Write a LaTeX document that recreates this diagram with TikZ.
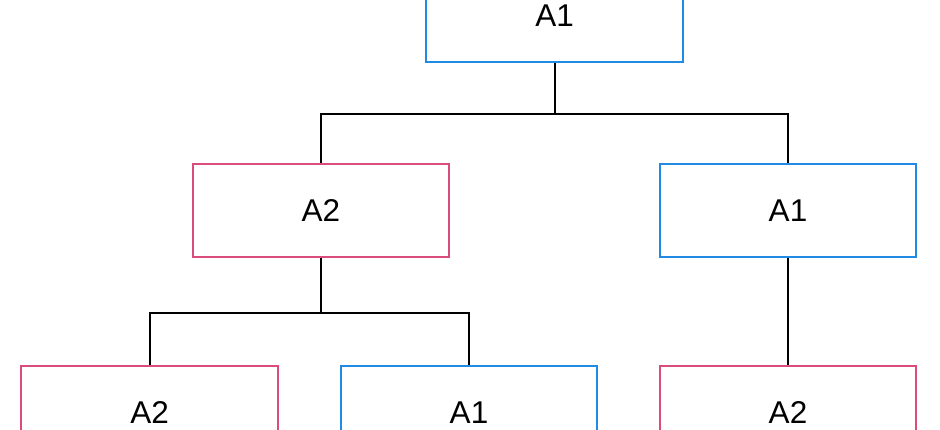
\documentclass[tikz,border=0pt]{standalone}
\usepackage{fontspec}
\setmainfont{Liberation Sans}
\usepackage{tikz}
\usetikzlibrary{positioning}
\definecolor{boxblue}{RGB}{33,138,226}
\definecolor{boxpink}{RGB}{218,76,124}
\tikzset{
    box/.style={draw, rectangle, minimum width=256.5pt, minimum height=93pt,
        inner sep=0pt, font=\fontsize{31.5}{36}\selectfont},
    bluebox/.style={box, draw=boxblue},
    pinkbox/.style={box, draw=boxpink},
    link/.style={draw=black},
}

\begin{document}
\begin{tikzpicture}[x=1pt, y=-1pt, line width=2pt]
	\useasboundingbox (0,0) rectangle (940,429);
	\node[bluebox] (top) at (554.7,15.5) {A1};
	\node[pinkbox] (midA) at (321,210.8) {A2};
	\node[bluebox] (midB) at (788,210.8) {A1};
	\node[pinkbox] (lowA) at (149.7,412.5) {A2};
	\node[bluebox] (lowB) at (469,412.5) {A1};
	\node[pinkbox] (lowC) at (788,412.5) {A2};
	\draw[link] (top.south) -- (top.south |- 0,114) -| (midA.north);
	\draw[link] (top.south) -- (top.south |- 0,114) -| (midB.north);
	\draw[link] (midA.south) -- (midA.south |- 0,312.7) -| (lowA.north);
	\draw[link] (midA.south) -- (midA.south |- 0,312.7) -| (lowB.north);
	\draw[link] (midB.south) -- (lowC.north);
\end{tikzpicture}
\end{document}
